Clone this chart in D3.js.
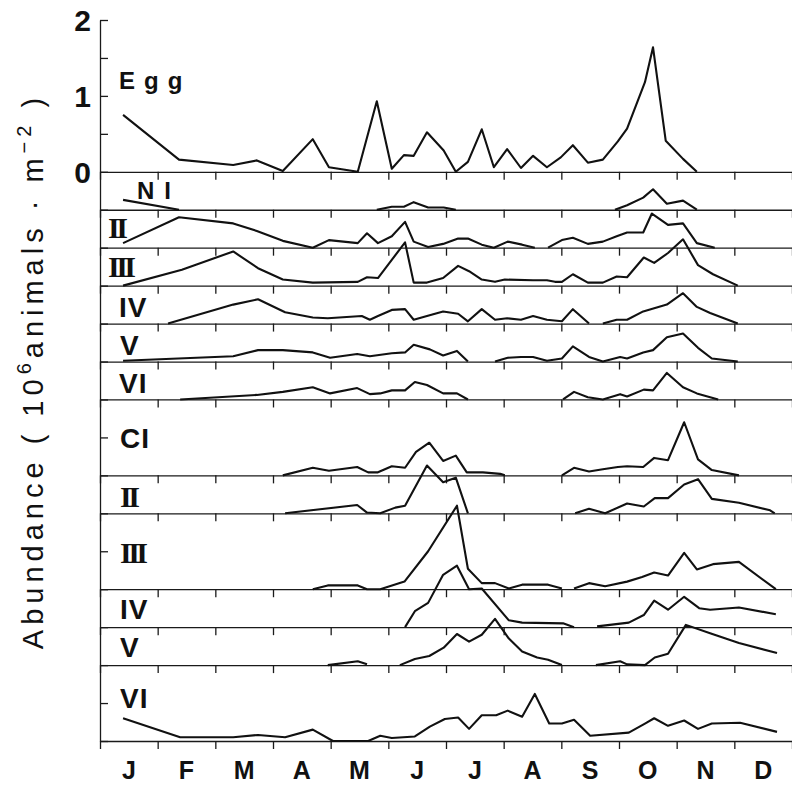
<!DOCTYPE html>
<html>
<head>
<meta charset="utf-8">
<script src="https://cdn.jsdelivr.net/npm/d3@7/dist/d3.min.js"></script>
<style>
  body { margin: 0; background: #fff; }
  .base path, .base line { stroke: #1a1a1a; stroke-width: 1.3; }
  .series { fill: none; stroke: #111; stroke-width: 2.1; stroke-linejoin: round; }
  text { fill: #111; font-family: "Liberation Sans", Arial, sans-serif; }
</style>
</head>
<body>
<div id="chart"></div>
<script>
// month labels for the x axis
var months = ["J","F","M","A","M","J","J","A","S","O","N","D"];
// stage names, top panel to bottom panel
var stages = ["Egg","NI","II","III","IV","V","VI","CI","II","III","IV","V","VI"];
// height of every panel (10^6 animals m^-2)
var panelHeights = [2, 0.5, 0.5, 0.5, 0.5, 0.5, 0.5, 1, 0.5, 1, 0.5, 0.5, 1];
var eggTicks = [0, 1, 2];

// series: [time in months from 1 Jan, abundance], null = break in line
var egg = [[0.40,0.75],[1.37,0.16],[2.31,0.09],[2.72,0.15],[3.17,0.01],[3.69,0.43],[3.97,0.06],[4.47,0],[4.80,0.93],[5.06,0.04],[5.27,0.22],[5.44,0.21],[5.67,0.52],[5.96,0.28],[6.17,0],[6.38,0.13],[6.62,0.56],[6.83,0.06],[7.06,0.30],[7.30,0.05],[7.51,0.21],[7.75,0.06],[7.99,0.19],[8.20,0.35],[8.46,0.12],[8.72,0.16],[8.98,0.40],[9.14,0.57],[9.45,1.18],[9.59,1.64],[9.81,0.41],[10.11,0.17],[10.35,0]];
var nI = [[0.40,0.13],[1.37,0],null,[4.80,0],[5.06,0.04],[5.27,0.04],[5.44,0.10],[5.69,0.03],[5.96,0.03],[6.17,0],null,[8.93,0],[9.14,0.06],[9.42,0.16],[9.59,0.27],[9.83,0.08],[10.11,0.12],[10.35,0]];
var nII = [[0.40,0.06],[1.37,0.40],[2.31,0.32],[2.72,0.22],[3.17,0.09],[3.69,0],[3.97,0.10],[4.47,0.06],[4.63,0.19],[4.82,0.06],[5.06,0.15],[5.29,0.34],[5.44,0.08],[5.69,0.01],[5.95,0.05],[6.21,0.12],[6.38,0.12],[6.62,0.04],[6.83,0],[7.07,0.08],[7.32,0.04],[7.54,0],null,[7.77,0],[8.01,0.10],[8.20,0.13],[8.46,0.05],[8.72,0.08],[8.96,0.15],[9.14,0.20],[9.42,0.20],[9.57,0.45],[9.85,0.30],[10.11,0.32],[10.35,0.06],[10.66,0]];
var nIII = [[0.40,0],[1.42,0.21],[2.31,0.45],[2.74,0.23],[3.17,0.08],[3.69,0.04],[4.47,0.05],[4.63,0.11],[4.82,0.10],[5.29,0.57],[5.44,0.04],[5.67,0.04],[5.95,0.10],[6.21,0.26],[6.40,0.19],[6.62,0.08],[6.85,0.05],[7.02,0.08],[7.51,0.07],[7.75,0.07],[7.89,0.05],[8.01,0.05],[8.20,0.15],[8.46,0.04],[8.72,0.04],[8.96,0.12],[9.14,0.11],[9.43,0.37],[9.61,0.30],[9.85,0.43],[10.11,0.61],[10.37,0.27],[10.63,0.15],[11.06,0]];
var nIV = [[1.18,0],[2.31,0.25],[2.74,0.32],[3.21,0.15],[3.69,0.08],[3.95,0.07],[4.54,0.10],[4.68,0.05],[4.82,0.10],[5.06,0.18],[5.29,0.19],[5.44,0.05],[5.67,0.10],[5.95,0.16],[6.21,0.13],[6.38,0.03],[6.62,0.19],[6.85,0.05],[7.06,0.07],[7.30,0.05],[7.51,0.10],[7.75,0.05],[8.01,0.03],[8.20,0.19],[8.48,0],null,[8.72,0],[8.96,0.05],[9.14,0.05],[9.42,0.16],[9.83,0.25],[10.11,0.40],[10.35,0.22],[10.58,0.14],[11.06,0]];
var nV = [[0.40,0.01],[2.31,0.07],[2.74,0.15],[3.17,0.15],[3.69,0.12],[3.99,0.05],[4.46,0.10],[4.68,0.07],[5.06,0.11],[5.29,0.12],[5.44,0.22],[5.72,0.16],[5.95,0.08],[6.19,0.14],[6.38,0],null,[6.85,0],[7.07,0.05],[7.30,0.06],[7.51,0.06],[7.75,0.01],[8.01,0.04],[8.20,0.20],[8.48,0.06],[8.72,0],[9.02,0.06],[9.14,0.04],[9.42,0.12],[9.59,0.15],[9.83,0.32],[10.11,0.37],[10.37,0.18],[10.61,0.04],[11.06,0]];
var nVI = [[1.39,0],[2.72,0.06],[3.17,0.10],[3.69,0.16],[3.99,0.08],[4.46,0.15],[4.68,0.07],[4.86,0.08],[5.06,0.12],[5.29,0.12],[5.46,0.23],[5.67,0.19],[5.95,0.08],[6.19,0.08],[6.38,0],null,[8.03,0],[8.22,0.10],[8.46,0.03],[8.72,0],[9.02,0.07],[9.14,0.04],[9.43,0.13],[9.59,0.12],[9.83,0.35],[10.11,0.16],[10.35,0.08],[10.72,0]];
var cI = [[3.17,0],[3.69,0.10],[3.97,0.06],[4.46,0.11],[4.65,0.04],[4.82,0.04],[5.06,0.12],[5.29,0.10],[5.48,0.31],[5.71,0.43],[5.95,0.19],[6.17,0.26],[6.36,0.04],[6.64,0.04],[6.94,0.02],[7.02,0],null,[8.01,0],[8.22,0.10],[8.48,0.05],[8.72,0.08],[8.98,0.11],[9.14,0.12],[9.42,0.11],[9.61,0.23],[9.85,0.20],[10.13,0.70],[10.37,0.21],[10.61,0.07],[11.08,0]];
var cII = [[3.21,0],[4.46,0.11],[4.63,0.01],[4.86,0],[5.12,0.075],[5.29,0.10],[5.67,0.63],[5.95,0.41],[6.17,0.47],[6.38,0],null,[8.24,0],[8.48,0.06],[8.76,0],[9.14,0.13],[9.43,0.09],[9.62,0.20],[9.85,0.20],[10.13,0.38],[10.37,0.45],[10.61,0.19],[11.08,0.14],[11.62,0.04],[11.70,0]];
var cIII = [[3.69,0],[3.95,0.05],[4.47,0.05],[4.63,0],[4.86,0],[5.28,0.10],[5.69,0.50],[6.19,1.10],[6.38,0.27],[6.62,0.08],[6.85,0.08],[7.09,0.01],[7.32,0.06],[7.77,0.06],[8.01,0.01],null,[8.22,0.01],[8.48,0.08],[8.76,0.04],[9.14,0.10],[9.40,0.16],[9.61,0.22],[9.85,0.18],[10.13,0.48],[10.35,0.26],[10.63,0.33],[11.08,0.36],[11.72,0]];
var cIV = [[5.29,0],[5.46,0.21],[5.69,0.32],[5.95,0.69],[6.19,0.81],[6.40,0.50],[6.62,0.51],[7.09,0.09],[7.32,0.06],[8.03,0.05],[8.22,0],null,[8.62,0.01],[9.17,0.06],[9.43,0.16],[9.61,0.35],[9.85,0.23],[10.13,0.40],[10.39,0.25],[10.58,0.23],[11.08,0.26],[11.72,0.17]];
var cV = [[3.95,0],[4.47,0.05],[4.63,0.01],null,[5.20,0],[5.46,0.08],[5.71,0.12],[5.96,0.23],[6.19,0.41],[6.40,0.31],[6.62,0.40],[6.85,0.61],[7.09,0.35],[7.32,0.18],[7.58,0.10],[7.77,0.07],[8.01,0],null,[8.60,0],[9.02,0.05],[9.14,0.01],[9.45,0],[9.62,0.10],[9.85,0.15],[10.16,0.53],[10.58,0.42],[11.08,0.29],[11.74,0.16]];
var cVI = [[0.40,0.30],[1.39,0.05],[2.31,0.05],[2.74,0.08],[3.21,0.05],[3.69,0.15],[4.04,0],[4.65,0],[4.86,0.07],[5.06,0.04],[5.46,0.06],[5.72,0.19],[5.98,0.29],[6.21,0.31],[6.40,0.16],[6.62,0.34],[6.87,0.34],[7.07,0.40],[7.32,0.32],[7.54,0.62],[7.79,0.23],[8.01,0.23],[8.22,0.28],[8.50,0.07],[9.17,0.11],[9.45,0.23],[9.61,0.30],[9.85,0.20],[10.13,0.27],[10.37,0.16],[10.61,0.23],[11.10,0.24],[11.74,0.12]];

var seriesList = [egg, nI, nII, nIII, nIV, nV, nVI, cI, cII, cIII, cIV, cV, cVI];

function stageChart(){
    var w = 792;
    var h = 785;

    // offset of each panel baseline, counted from the bottom panel
    var offsets = [];
    var total = 0;
    for (var i = panelHeights.length - 1; i >= 0; i--) {
        offsets[i] = total;
        total += panelHeights[i];
    }

    var xScale = d3.scaleLinear()
                   .domain([0, 12])
                   .range([100, 792]);
    var yScale = d3.scaleLinear()
                   .domain([0, total])
                   .range([741, 20]);

    var svg = d3.select("#chart")
                .append("svg")
                .attr("width", w)
                .attr("height", h);

    // baseline of every panel with month ticks
    offsets.forEach(function(off){
        svg.append("g")
           .attr("class", "base")
           .attr("transform", "translate(0," + yScale(off) + ")")
           .call(d3.axisBottom(xScale)
                   .tickValues(d3.range(0, 13))
                   .tickSize(8)
                   .tickSizeOuter(0)
                   .tickFormat(""));
    });

    // left axis, tick every 0.5
    svg.append("g")
       .attr("class", "base")
       .attr("transform", "translate(100,0)")
       .call(d3.axisRight(yScale)
               .tickValues(d3.range(0, total + 0.01, 0.5))
               .tickSize(8)
               .tickSizeOuter(0)
               .tickFormat(""));

    // labels 0 1 2 for the egg panel
    svg.selectAll(".eggtick")
       .data(eggTicks)
       .enter()
       .append("text")
       .attr("class", "eggtick")
       .attr("x", 91)
       .attr("y", function(d){ return yScale(offsets[0] + d) + 11; })
       .attr("text-anchor", "end")
       .style("font-size", "30px")
       .style("font-weight", "bold")
       .text(function(d){ return d; });

    // lines
    seriesList.forEach(function(data, i){
        var line = d3.line()
                     .defined(function(d){ return d != null; })
                     .x(function(d){ return xScale(d[0]); })
                     .y(function(d){ return yScale(offsets[i] + d[1]); });
        svg.append("path")
           .datum(data)
           .attr("class", "series")
           .attr("d", line);
    });

    // stage labels: x position and height above the baseline
    var labelX = [119, 137, 108, 108, 119, 120, 119, 120, 120, 120, 120, 120, 120];
    var labelUp = [83, 11, 10, 9, 7, 7, 6, 27, 6, 26, 8, 8, 33];
    svg.selectAll(".stage")
       .data(stages)
       .enter()
       .append("text")
       .attr("class", "stage")
       .attr("x", function(d, i){ return labelX[i]; })
       .attr("y", function(d, i){ return yScale(offsets[i]) - labelUp[i]; })
       .style("font-family", function(d){ return (d == "II" || d == "III") ? "'Liberation Serif', serif" : null; })
       .style("font-weight", "bold")
       .style("font-size", function(d, i){
            if (i < 2) return "24px";
            return (d == "II" || d == "III") ? "30px" : "28px";
       })
       .style("letter-spacing", function(d, i){
            if (i == 0) return "9px";
            if (i == 1) return "10px";
            if (d == "II" || d == "III") return "-3.5px";
            return "1px";
       })
       .text(function(d){ return d; });

    // month labels
    svg.selectAll(".month")
       .data(months)
       .enter()
       .append("text")
       .attr("class", "month")
       .attr("x", function(d, i){ return xScale(i + 0.5); })
       .attr("y", 779)
       .attr("text-anchor", "middle")
       .style("font-size", "25px")
       .style("font-weight", "bold")
       .text(function(d){ return d; });

    // y axis title
    var title = svg.append("text")
                   .attr("transform", "translate(43,371) rotate(-90)")
                   .attr("text-anchor", "middle")
                   .style("font-size", "29px")
                   .style("letter-spacing", "5px");
    title.append("tspan").text("Abundance  ( 10");
    title.append("tspan").attr("dy", -12).style("font-size", "20px").text("6");
    title.append("tspan").attr("dy", 12).text("animals \u00b7 m");
    title.append("tspan").attr("dy", -12).style("font-size", "20px").text("\u22122");
    title.append("tspan").attr("dy", 12).text(" )");
}

stageChart();
</script>
</body>
</html>
